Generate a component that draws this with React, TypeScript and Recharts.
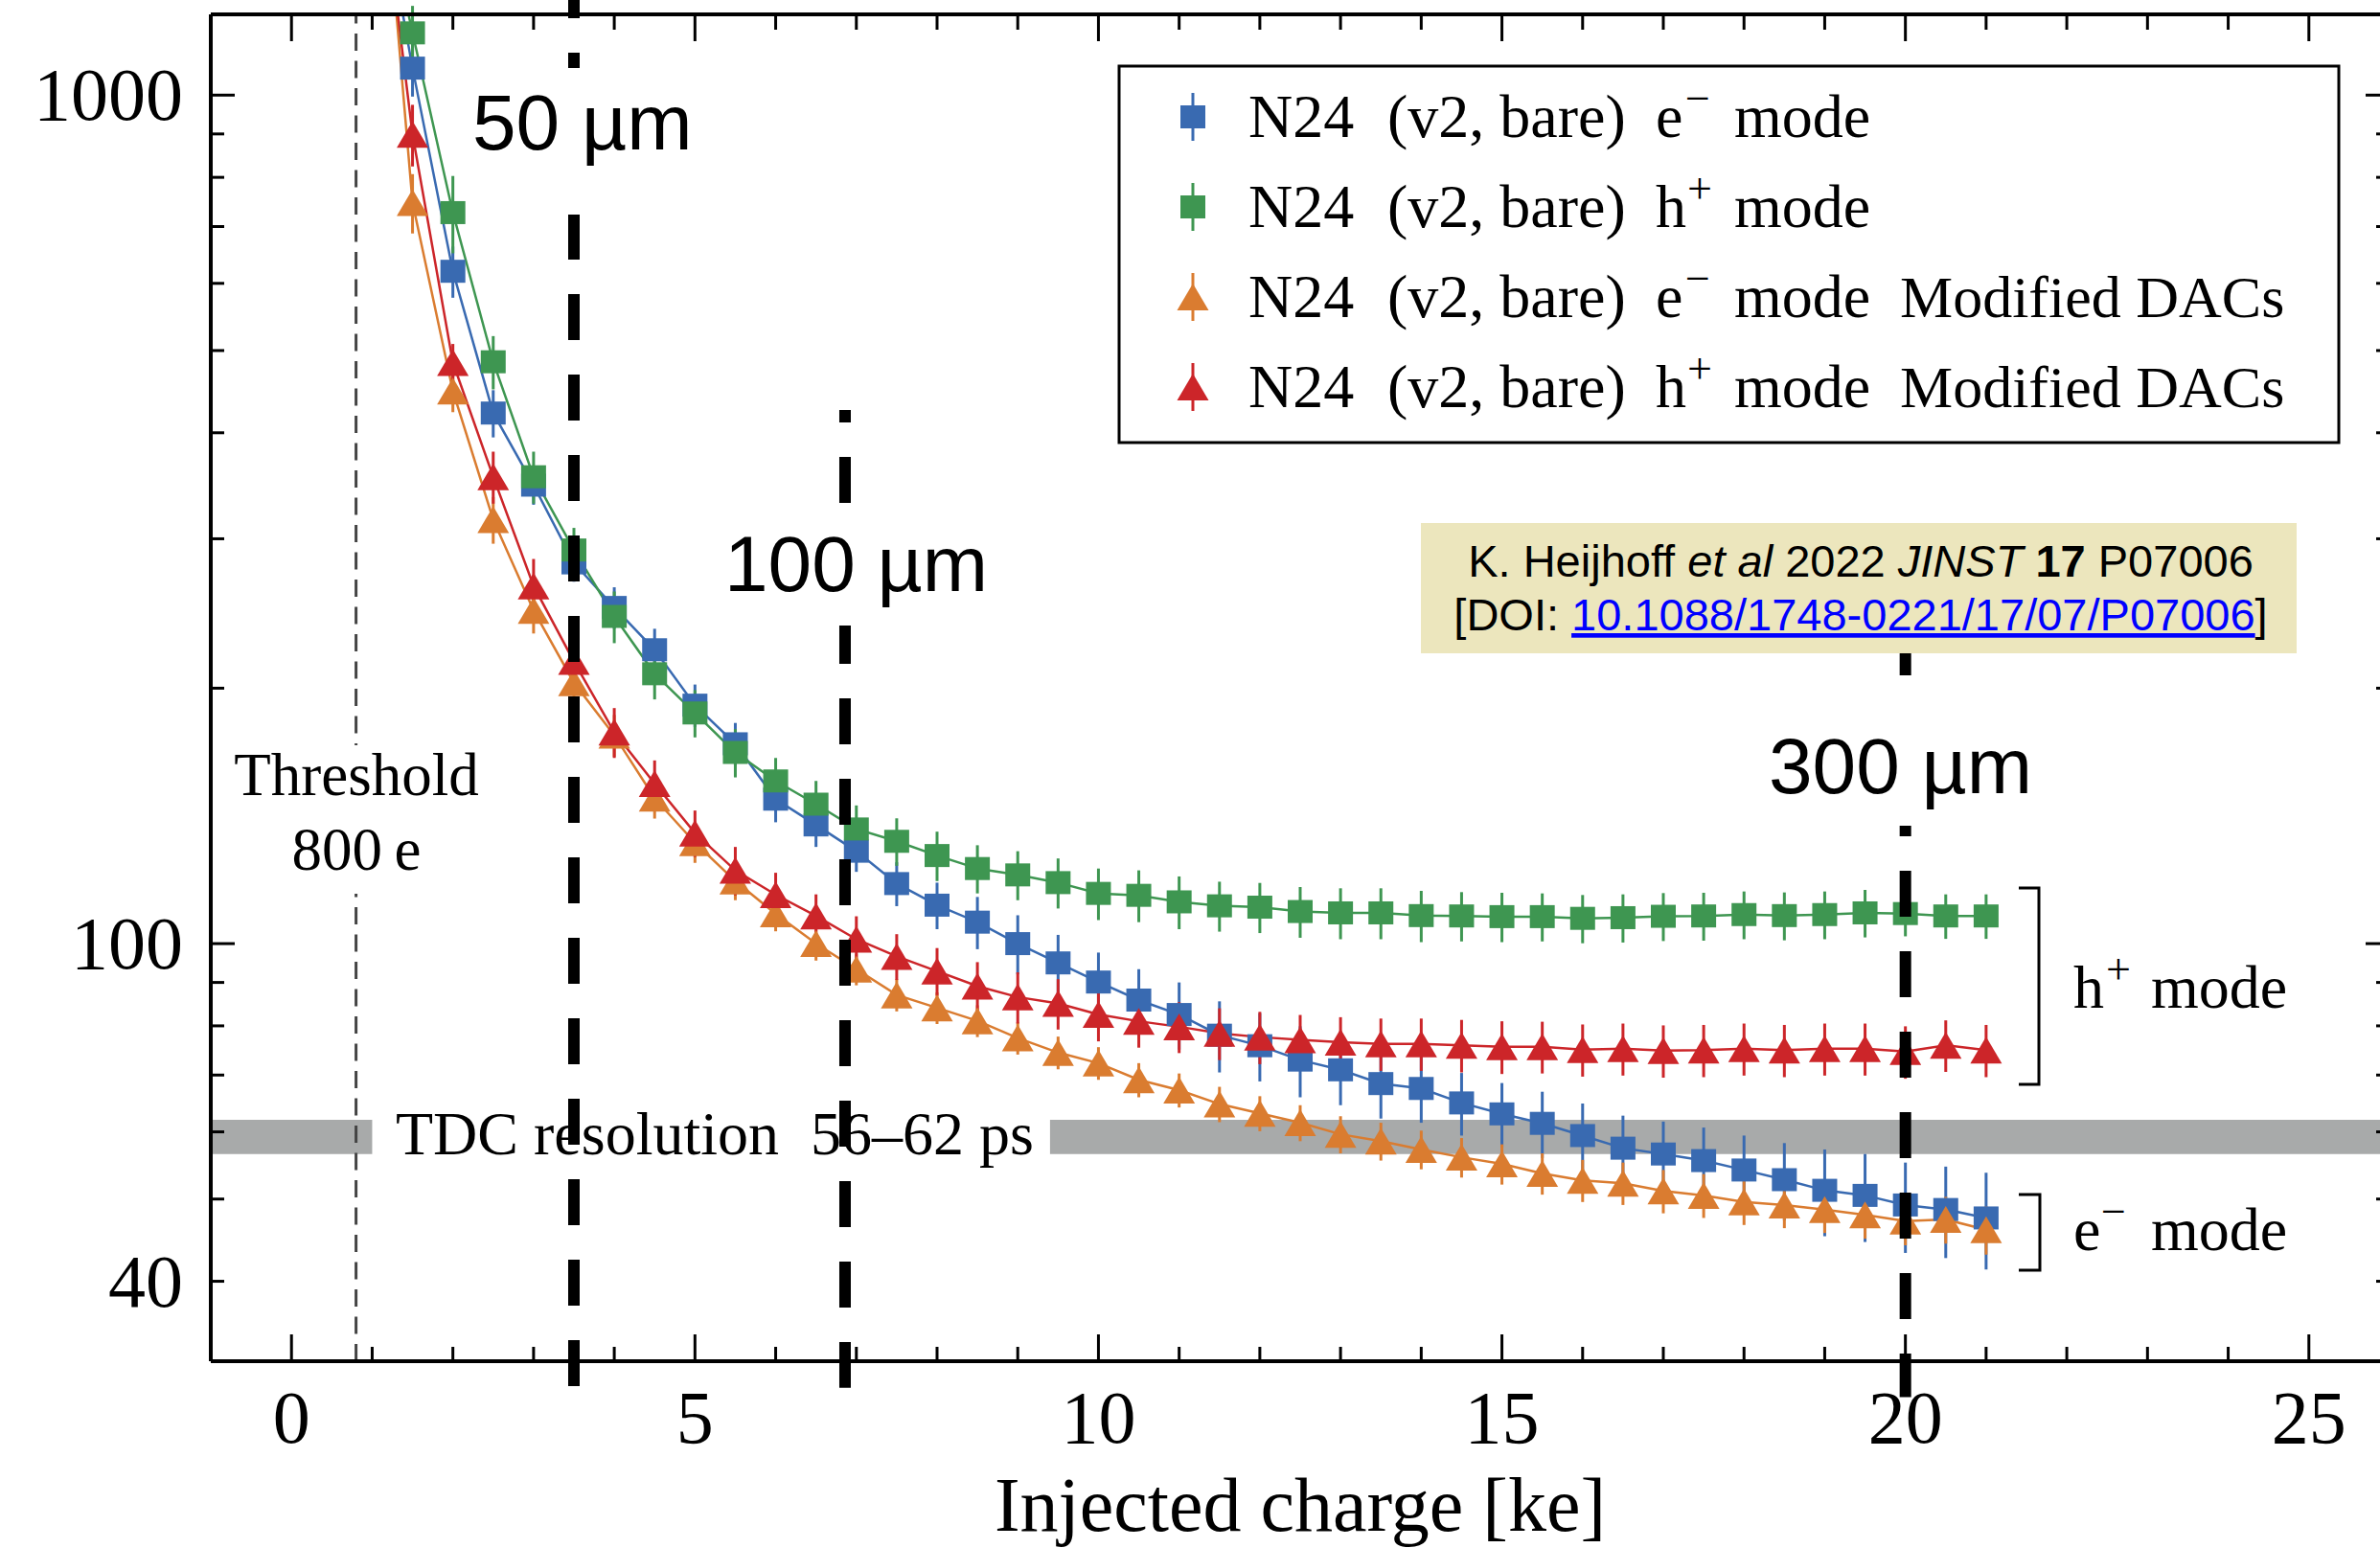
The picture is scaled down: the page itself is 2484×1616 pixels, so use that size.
import React from 'react';
import { ComposedChart, Line, XAxis, YAxis, ErrorBar, ReferenceLine, ReferenceArea } from 'recharts';

const W = 2484;
const H = 1616;
const SERIF = '"Liberation Serif", "Times New Roman", Times, serif';
const SANS = '"Liberation Sans", Arial, Helvetica, sans-serif';

// ---- data (injected charge in ke, time resolution in ps) ----
const xValues = [1, 1.5, 2, 2.5, 3, 3.5, 4, 4.5, 5, 5.5, 6, 6.5, 7, 7.5, 8, 8.5, 9, 9.5, 10, 10.5, 11, 11.5, 12, 12.5, 13, 13.5, 14, 14.5, 15, 15.5, 16, 16.5, 17, 17.5, 18, 18.5, 19, 19.5, 20, 20.5, 21];

const eModeValues = [1980, 1076, 620, 422, 347, 281, 249, 222, 191, 172, 148, 138, 128.5, 117.7, 111, 106, 100, 94.9, 90.1, 85.8, 82.5, 78, 75.8, 72.9, 71, 68.4, 67.5, 64.9, 63, 61.4, 59.4, 57.4, 56.5, 55.5, 54.1, 52.7, 51.2, 50.5, 49.2, 48.6, 47.5];
const eModeErrors = [150, 80, 43, 27, 18, 14, 14, 13, 11, 10, 9, 8, 7, 7, 7, 7.5, 8, 7.5, 7.5, 7.5, 7.5, 7.5, 7, 7, 6.5, 6.2, 6, 5.5, 5.5, 5.5, 5.4, 5.3, 5.2, 5.2, 5.3, 5.5, 6, 6, 6, 6, 6.2];

const hModeValues = [1960, 1184, 727, 485, 355, 291, 243, 208, 187, 168, 155.5, 146, 136.5, 132, 127, 122.6, 120.5, 118, 114.6, 114, 112, 110.8, 110.4, 109.1, 108.7, 108.7, 107.9, 107.8, 107.6, 107.6, 107.1, 107.3, 107.7, 107.8, 108.2, 107.9, 108.2, 108.7, 108.5, 107.8, 107.8];
const hModeErrors = [150, 90, 76, 35, 25, 18, 17, 14, 12, 11, 10, 9.5, 9, 8.5, 8.5, 8, 8, 8, 8, 8, 8, 7.5, 7.5, 7.5, 7.5, 7.5, 7.5, 7.2, 7.2, 7, 7, 7, 7, 7, 7, 7, 7, 7, 6.5, 6.5, 6.5];

const eModeModValues = [2700, 747, 448, 316, 247, 203, 176, 148.4, 131.5, 118.5, 108.4, 100, 93.3, 87, 84, 81.1, 77.4, 74.4, 72.3, 69.1, 67.2, 64.7, 63.1, 61.5, 59.6, 58.5, 57.2, 56, 55, 53.6, 52.6, 52.2, 51.1, 50.5, 49.6, 49.2, 48.6, 47.9, 47.1, 47.3, 46];
const eModeModErrors = [200, 60, 25, 20, 15, 12, 10, 8, 7, 6, 5, 4.5, 4, 3.8, 3.6, 3.5, 3.4, 3.3, 3.2, 3.2, 3.1, 3.1, 3, 3, 3, 3, 3, 3, 3, 3, 3, 3, 3, 3, 3, 3, 3, 3, 3, 3, 3];

const hModeModValues = [2200, 899, 484, 355, 264, 215, 177.5, 154.4, 135, 122, 114.2, 107.8, 101.2, 96.6, 92.8, 89.1, 86.5, 85, 82.5, 81, 79.8, 78.4, 77.6, 77, 76.5, 76.2, 76.2, 75.9, 75.6, 75.6, 75, 75.2, 74.8, 74.9, 75.2, 74.9, 75.2, 75.2, 74.6, 75.9, 74.9];
const hModeModErrors = [180, 75, 25, 25, 20, 15, 12, 10, 8.5, 8, 7, 6.5, 6.5, 6, 6, 6, 6, 5.8, 5.8, 5.6, 5.5, 5.5, 5.5, 5.4, 5.4, 5.4, 5.4, 5.4, 5.4, 5.3, 5.3, 5.3, 5.3, 5.3, 5.3, 5.3, 5.3, 5.3, 5.3, 5.3, 5.3];

// ---- axes ----
const xDomain = [-1, 26];
const yDomain = [32.2, 1245];
const xTicks = [0, 1, 2, 3, 4, 5, 6, 7, 8, 9, 10, 11, 12, 13, 14, 15, 16, 17, 18, 19, 20, 21, 22, 23, 24, 25];
const xTickLabels = [0, 5, 10, 15, 20, 25];
const yTicks = [40, 50, 60, 70, 80, 90, 100, 200, 300, 400, 500, 600, 700, 800, 900, 1000];
const yTickLabels = [40, 100, 1000];
const yMajorTicks = [100, 1000];
const xAxisTitle = 'Injected charge [ke]';

// ---- annotations ----
const thresholdKe = 0.8;
const tdcBand = [56.5, 62];
const tdcBandSpans = [[-1, 1.0], [9.4, 26]];
const thicknessLines = [
  { x: 3.5, yTop: 1396, yBottom: 29.95, offset: 0 },
  { x: 6.86, yTop: 425.5, yBottom: 29.95, offset: 35 },
  { x: 20, yTop: 219.9, yBottom: 29.2, offset: 25 },
];

const series = [
  { key: 'eMode', color: '#396AB1', shape: 'square', values: eModeValues, errors: eModeErrors, carrier: 'e', charge: '\u2212', extra: '' },
  { key: 'hMode', color: '#3E9651', shape: 'square', values: hModeValues, errors: hModeErrors, carrier: 'h', charge: '+', extra: '' },
  { key: 'eModeMod', color: '#DA7C30', shape: 'triangle', values: eModeModValues, errors: eModeModErrors, carrier: 'e', charge: '\u2212', extra: 'Modified DACs' },
  { key: 'hModeMod', color: '#CC2529', shape: 'triangle', values: hModeModValues, errors: hModeModErrors, carrier: 'h', charge: '+', extra: 'Modified DACs' },
];

const data = xValues.map((x, i) => {
  const row: any = { x };
  series.forEach((s) => {
    row[s.key] = s.values[i];
    row[s.key + 'Err'] = s.errors[i];
  });
  return row;
});

const AXIS_LINE = { stroke: '#000', strokeWidth: 4 };

const BottomTick = (p: any) => {
  const v = p.payload.value;
  const major = xTickLabels.includes(v);
  return (
    <g>
      <line x1={p.x} x2={p.x} y1={p.y} y2={p.y - (major ? 28 : 15)} stroke="#000" strokeWidth={3} />
      {major ? (
        <text x={p.x} y={p.y + 85} textAnchor="middle" fontFamily={SERIF} fontSize={78} fill="#000">{v}</text>
      ) : null}
    </g>
  );
};

const TopTick = (p: any) => {
  const v = p.payload.value;
  const major = xTickLabels.includes(v);
  return <line x1={p.x} x2={p.x} y1={p.y} y2={p.y + (major ? 28 : 16)} stroke="#000" strokeWidth={3} />;
};

const LeftTick = (p: any) => {
  const v = p.payload.value;
  const major = yMajorTicks.includes(v);
  return (
    <g>
      <line x1={p.x} x2={p.x + (major ? 25 : 14)} y1={p.y} y2={p.y} stroke="#000" strokeWidth={3} />
      {yTickLabels.includes(v) ? (
        <text x={p.x - 29} y={p.y + 26} textAnchor="end" fontFamily={SERIF} fontSize={78} fill="#000">{v}</text>
      ) : null}
    </g>
  );
};

const RightTick = (p: any) => {
  const v = p.payload.value;
  const major = yMajorTicks.includes(v);
  return <line x1={p.x} x2={p.x - (major ? 25 : 14)} y1={p.y} y2={p.y} stroke="#000" strokeWidth={3} />;
};

const squareDot = (color: string) => (p: any) => {
  const { cx, cy, index } = p;
  if (cx == null || cy == null) return <g key={index} />;
  return <rect key={index} x={cx - 13} y={cy - 12} width={26} height={24} fill={color} />;
};

const triangleDot = (color: string) => (p: any) => {
  const { cx, cy, index } = p;
  if (cx == null || cy == null) return <g key={index} />;
  return <polygon key={index} points={`${cx},${cy - 14} ${cx - 16.5},${cy + 14} ${cx + 16.5},${cy + 14}`} fill={color} />;
};

const LegendMarker = ({ cx, cy, color, shape }: any) => (
  <g>
    <line x1={cx} x2={cx} y1={cy - 25} y2={cy + 25} stroke={color} strokeWidth={3} />
    {shape === 'square' ? (
      <rect x={cx - 13} y={cy - 12} width={26} height={24} fill={color} />
    ) : (
      <polygon points={`${cx},${cy - 14} ${cx - 16.5},${cy + 14} ${cx + 16.5},${cy + 14}`} fill={color} />
    )}
  </g>
);

const Overlay = () => (
  <svg width={W} height={H} style={{ position: 'absolute', left: 0, top: 0, pointerEvents: 'none' }}>
    {/* Threshold label */}
    <rect x={242} y={778} width={262} height={155} fill="#fff" />
    <text x={372} y={830} textAnchor="middle" fontFamily={SERIF} fontSize={63} fill="#000">Threshold</text>
    <text x={372} y={908} textAnchor="middle" fontFamily={SERIF} fontSize={63} fill="#000">800{'\u2009'}e</text>

    {/* TDC label */}
    <text y={1205} fontFamily={SERIF} fontSize={64} fill="#000">
      <tspan x={413}>TDC resolution</tspan>
      <tspan x={846}>56–62 ps</tspan>
    </text>

    {/* thickness labels */}
    <rect x={486} y={71} width={244} height={153} fill="#fff" />
    <text x={493} y={156} fontFamily={SANS} fontSize={82} fill="#000">50 µm</text>
    <rect x={745} y={526} width={290} height={127} fill="#fff" />
    <text x={756} y={617} fontFamily={SANS} fontSize={82} fill="#000">100 µm</text>
    <rect x={1835} y={705} width={295} height={157} fill="#fff" />
    <text x={1846} y={828} fontFamily={SANS} fontSize={82} fill="#000">300 µm</text>

    {/* citation */}
    <rect x={1483} y={546} width={914} height={136} fill="#ECE6BD" />
    <text x={1942} y={602} textAnchor="middle" fontFamily={SANS} fontSize={47} fill="#000">
      K. Heijhoff{' '}<tspan fontStyle="italic">et al</tspan>{' '}2022{' '}<tspan fontStyle="italic">JINST</tspan>{' '}<tspan fontWeight="bold">17</tspan>{' '}P07006
    </text>
    <text x={1942} y={658} textAnchor="middle" fontFamily={SANS} fontSize={47} fill="#000">
      [DOI:{' '}<tspan fill="#0000ff" style={{ textDecoration: 'underline' }}>10.1088/1748-0221/17/07/P07006</tspan>]
    </text>

    {/* legend */}
    <rect x={1168} y={69} width={1273} height={393} fill="#fff" stroke="#000" strokeWidth={3} />
    {series.map((s, i) => {
      const cy = 122 + 94 * i;
      const base = cy + 21;
      return (
        <g key={s.key}>
          <LegendMarker cx={1245} cy={cy} color={s.color} shape={s.shape} />
          <text y={base} fontFamily={SERIF} fontSize={64} fill="#000">
            <tspan x={1303}>N24</tspan>
            <tspan x={1448}>(v2, bare)</tspan>
            <tspan x={1728}>{s.carrier}</tspan>
            <tspan x={s.carrier === 'h' ? 1761 : 1759} y={base - 25} fontSize={46}>{s.charge}</tspan>
            <tspan x={1810} y={base}>mode</tspan>
            {s.extra ? <tspan x={1983} fontSize={62}>{s.extra}</tspan> : null}
          </text>
        </g>
      );
    })}

    {/* brackets */}
    <polyline points="2107,927 2128,927 2128,1132 2107,1132" fill="none" stroke="#000" strokeWidth={3} />
    <polyline points="2107,1247 2129,1247 2129,1326 2107,1326" fill="none" stroke="#000" strokeWidth={3} />
    <text y={1052} fontFamily={SERIF} fontSize={64} fill="#000">
      <tspan x={2164}>h</tspan>
      <tspan x={2198} y={1027} fontSize={46}>+</tspan>
      <tspan x={2245} y={1052}>mode</tspan>
    </text>
    <text y={1305} fontFamily={SERIF} fontSize={64} fill="#000">
      <tspan x={2164}>e</tspan>
      <tspan x={2193} y={1280} fontSize={46}>{'\u2212'}</tspan>
      <tspan x={2245} y={1305}>mode</tspan>
    </text>
  </svg>
);

export default function App() {
  return (
    <div style={{ position: 'absolute', left: 0, top: 0, width: W, height: H, background: '#fff', overflow: 'hidden' }}>
      <ComposedChart width={W} height={H} data={data} margin={{ top: 14, right: -11, bottom: 0, left: 0 }}>
        <XAxis
          xAxisId="b" dataKey="x" type="number" domain={xDomain} ticks={xTicks} interval={0} allowDataOverflow
          tickLine={false} tickSize={0} tickMargin={0} tick={(p: any) => <BottomTick {...p} />} height={195}
          axisLine={AXIS_LINE}
          label={{ value: xAxisTitle, position: 'insideBottom', offset: 18, fontSize: 80, fontFamily: SERIF, fill: '#000' }}
        />
        <XAxis
          xAxisId="t" orientation="top" dataKey="x" type="number" domain={xDomain} ticks={xTicks} interval={0} allowDataOverflow
          tickLine={false} tickSize={0} tickMargin={0} tick={(p: any) => <TopTick {...p} />} height={1} axisLine={AXIS_LINE}
        />
        <YAxis
          yAxisId="l" type="number" scale="log" domain={yDomain} ticks={yTicks} interval={0} allowDataOverflow
          tickLine={false} tickSize={0} tickMargin={0} tick={(p: any) => <LeftTick {...p} />} width={220} axisLine={AXIS_LINE}
        />
        <YAxis
          yAxisId="r" orientation="right" type="number" scale="log" domain={yDomain} ticks={yTicks} interval={0} allowDataOverflow
          tickLine={false} tickSize={0} tickMargin={0} tick={(p: any) => <RightTick {...p} />} width={1} axisLine={AXIS_LINE}
        />

        {tdcBandSpans.map(([a, b], i) => (
          <ReferenceArea
            key={'tdc' + i} xAxisId="b" yAxisId="l" x1={a} x2={b} y1={tdcBand[0]} y2={tdcBand[1]}
            fill="#A8AAAA" fillOpacity={1} stroke="none" ifOverflow="hidden"
          />
        ))}
        <ReferenceLine
          xAxisId="b" yAxisId="l" x={thresholdKe} stroke="#444" strokeWidth={3} strokeDasharray="18 10.5"
        />

        {series.map((s) => (
          <Line
            key={s.key} xAxisId="b" yAxisId="l" dataKey={s.key} type="linear" stroke={s.color} strokeWidth={2.5}
            dot={s.shape === 'square' ? squareDot(s.color) : triangleDot(s.color)} activeDot={false}
            isAnimationActive={false}
          >
            <ErrorBar dataKey={s.key + 'Err'} width={0} strokeWidth={3} stroke={s.color} direction="y" />
          </Line>
        ))}

        {thicknessLines.map((l, i) => (
          <ReferenceLine
            key={'t' + i} xAxisId="b" yAxisId="l"
            segment={[{ x: l.x, y: l.yTop }, { x: l.x, y: l.yBottom }]}
            ifOverflow="visible" stroke="#000" strokeWidth={12} strokeDasharray="48 36" strokeDashoffset={l.offset}
            zIndex={1500}
          />
        ))}
      </ComposedChart>
      <Overlay />
    </div>
  );
}
